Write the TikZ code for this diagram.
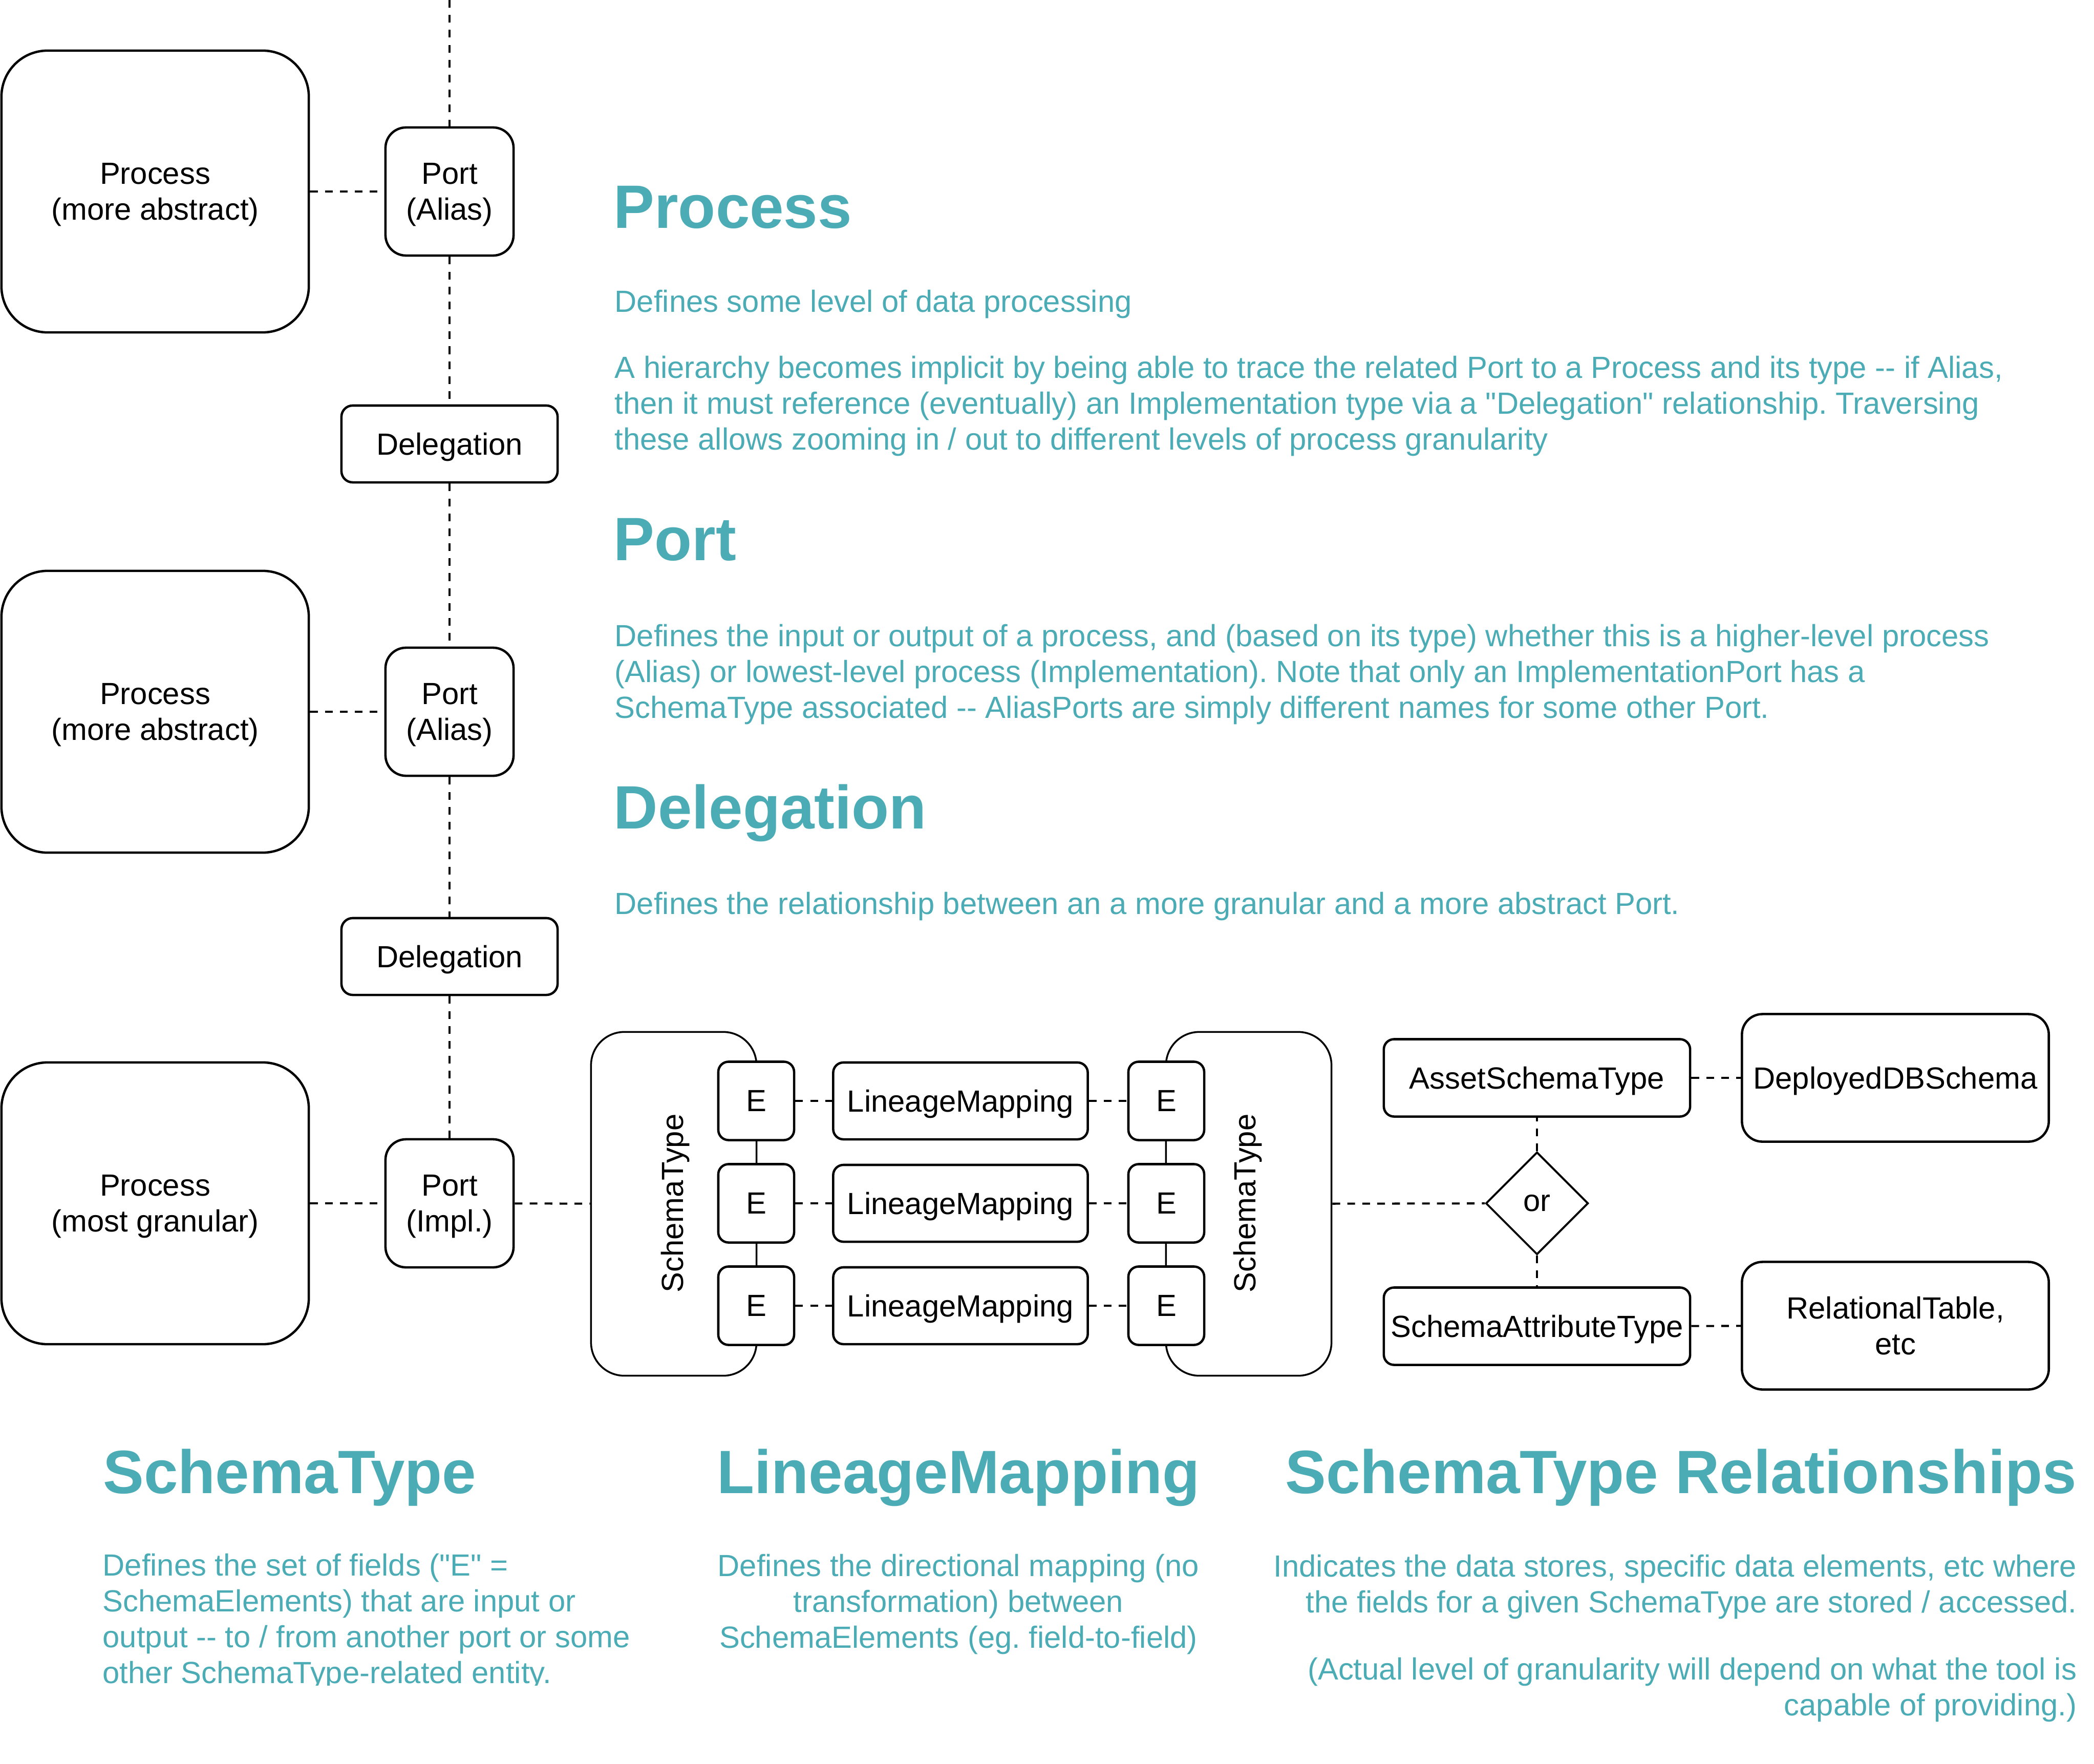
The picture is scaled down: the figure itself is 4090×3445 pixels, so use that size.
\documentclass[tikz,border=0pt]{standalone}
\usepackage{fontspec}
\setmainfont{Liberation Sans}
\usepackage{tikz}
\usetikzlibrary{calc,shapes.geometric,arrows}
\frenchspacing

\definecolor{headteal}{RGB}{75,172,182}
\newcommand{\lblfont}{\fontsize{17pt}{19.9pt}\selectfont}
\newcommand{\headfont}{\bfseries\fontsize{34pt}{40pt}\selectfont}

\tikzset{
    box/.style={draw, line width=1.3pt, align=center, font=\lblfont, inner sep=0pt, text depth=0pt},
    procbox/.style={box, rounded corners=0.9cm, minimum width=6cm, minimum height=5.5cm, text depth=-0.17cm},
    portbox/.style={box, rounded corners=0.4cm, minimum width=2.5cm, minimum height=2.5cm, text depth=-0.15cm},
    delbox/.style={box, rounded corners=0.22cm, minimum width=4.22cm, minimum height=1.5cm},
    ebox/.style={box, fill=white, rounded corners=0.2cm, minimum width=1.48cm, minimum height=1.53cm},
    lmbox/.style={box, rounded corners=0.2cm, minimum width=4.97cm, minimum height=1.5cm},
    stbox/.style={draw, line width=1pt, rounded corners=0.65cm, minimum width=3.23cm, minimum height=6.71cm},
    typebox/.style={box, rounded corners=0.2cm, minimum width=5.98cm, minimum height=1.51cm},
    storebox/.style={box, rounded corners=0.4cm, minimum width=5.99cm, minimum height=2.49cm},
    link/.style={line width=1.15pt, dash pattern=on 4.3pt off 4pt},
    heading/.style={text=headteal, font=\headfont, inner sep=0pt, anchor=base west},
    bodytext/.style={text=headteal, font=\lblfont, inner sep=0pt, anchor=base west, align=left}
}

\begin{document}
\begin{tikzpicture}[x=0.01cm, y=-0.01cm]
    \useasboundingbox (0,0) rectangle (4090,3445);

    \foreach \i/\y/\kind/\pk in {1/374/more abstract/Alias, 2/1390/more abstract/Alias, 3/2350/most granular/Impl.}
    {
        \node[procbox] (proc\i) at (303,\y) {Process\\(\kind)};
        \node[portbox] (port\i) at (878,\y) {Port\\(\pk)};
        \draw[link] (proc\i) -- (port\i);
    }
    \node[delbox] (del1) at (878,867) {Delegation};
    \node[delbox] (del2) at (878,1868) {Delegation};

    \coordinate (top) at (878,0);
    \draw[link] (top) -- (port1);
    \draw[link] (port1) -- (del1);
    \draw[link] (del1) -- (port2);
    \draw[link] (port2) -- (del2);
    \draw[link] (del2) -- (port3);

    \node[stbox] (lst) at (1316,2351) {};
    \node[stbox] (rst) at (2439,2351) {};
    \node[font=\lblfont, rotate=90] (lsttext) at (1319,2350) {SchemaType};
    \node[font=\lblfont, rotate=90] (rsttext) at (2437,2350) {SchemaType};
    \draw[link] (port3) -- (lst);

    \foreach \i/\y in {1/2150, 2/2350, 3/2550}
    {
        \node[ebox] (le\i) at (1477,\y) {E};
        \node[lmbox] (lm\i) at (1876,\y) {LineageMapping};
        \node[ebox] (re\i) at (2278,\y) {E};
        \draw[link] (le\i) -- (lm\i);
        \draw[link] (lm\i) -- (re\i);
    }

    \node[draw, diamond, line width=1.1pt, minimum width=2cm, minimum height=2cm, inner sep=0pt, font=\lblfont] (orgate) at (3002,2350) {or};
    \node[typebox] (ast) at (3002,2105) {AssetSchemaType};
    \node[typebox] (sat) at (3002,2590) {SchemaAttributeType};
    \node[storebox] (dep) at (3702,2105) {DeployedDBSchema};
    \node[storebox, text depth=-0.12cm] (rel) at (3702,2589) {RelationalTable,\\etc};
    \draw[link] (rst) -- (orgate);
    \draw[link] (orgate) -- (ast);
    \draw[link] (orgate) -- (sat);
    \draw[link] (ast) -- (dep);
    \draw[link] (sat) -- (rel);

    \node[heading] (prochead) at (1198,445) {Process};
    \node[bodytext] (proctext) at (1200,609) {Defines some level of data processing};
    \node[bodytext] (proctext2) at (1200,878) {A hierarchy becomes implicit by being able to trace the related Port to a Process and its type -{}- if Alias,\\then it must reference (eventually) an Implementation type via a \textquotedbl Delegation\textquotedbl{} relationship. Traversing\\these allows zooming in / out to different levels of process granularity};

    \node[heading] (porthead) at (1198,1094) {Port};
    \node[bodytext] (porttext) at (1200,1402) {Defines the input or output of a process, and (based on its type) whether this is a higher-level process\\(Alias) or lowest-level process (Implementation). Note that only an ImplementationPort has a\\SchemaType associated -{}- AliasPorts are simply different names for some other Port.};

    \node[heading] (delhead) at (1198,1618) {Delegation};
    \node[bodytext] (deltext) at (1200,1785) {Defines the relationship between an a more granular and a more abstract Port.};

    \node[heading] (sthead) at (201,2916) {SchemaType};
    \begin{scope}
        \clip (0,2950) rectangle (1300,3291);
        \node[bodytext] (sttext) at (200,3287) {Defines the set of fields (\textquotedbl E\textquotedbl{} =\\SchemaElements) that are input or\\output -{}- to / from another port or some\\other SchemaType-related entity.};
    \end{scope}

    \node[heading, anchor=base] (lmhead) at (1872,2916) {LineageMapping};
    \node[bodytext, anchor=base, align=center] (lmtext) at (1872,3218) {Defines the directional mapping (no\\transformation) between\\SchemaElements (eg. field-to-field)};

    \node[heading, anchor=base east] (relhead) at (4057,2916) {SchemaType Relationships};
    \node[bodytext, anchor=base east, align=right] (reltext) at (4057,3149) {Indicates the data stores, specific data elements, etc where\\the fields for a given SchemaType are stored / accessed.};
    \node[bodytext, anchor=base east, align=right] (reltext2) at (4057,3350) {(Actual level of granularity will depend on what the tool is\\capable of providing.)};
\end{tikzpicture}
\end{document}
